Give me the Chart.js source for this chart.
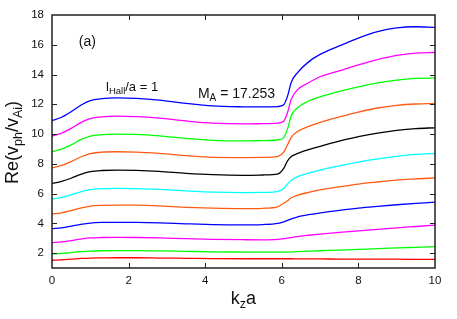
<!DOCTYPE html>
<html lang="en">
<head>
    <meta charset="UTF-8">
    <title>Re(vph/vAi) vs kza</title>
    <script src="https://cdn.jsdelivr.net/npm/chart.js@4.4.1/dist/chart.umd.min.js"></script>
    <style>
        html, body { margin: 0; padding: 0; background: #fff; }
        #wrap { width: 457px; height: 319px; }
    </style>
</head>
<body>
    <div id="wrap"><canvas id="grafico"></canvas></div>

    <script>
        // sample points along kz*a
        const kz = [0, 0.25, 0.5, 0.75, 1, 1.3, 1.7, 2.2, 2.8, 3.5, 4.2, 5, 5.5,
                    5.9, 6.05, 6.15, 6.25, 6.4, 6.7, 7, 7.5, 8, 8.5, 9, 9.5, 10];

        // curves, bottom to top
        const c1  = [1.52, 1.55, 1.59, 1.64, 1.67, 1.68, 1.69, 1.69, 1.67, 1.65, 1.63, 1.62, 1.62,
                     1.62, 1.62, 1.62, 1.62, 1.61, 1.61, 1.61, 1.60, 1.60, 1.59, 1.59, 1.58, 1.58];
        const c2  = [1.95, 1.98, 2.04, 2.10, 2.14, 2.16, 2.17, 2.17, 2.15, 2.12, 2.09, 2.07, 2.06,
                     2.06, 2.06, 2.07, 2.08, 2.10, 2.13, 2.16, 2.20, 2.25, 2.30, 2.35, 2.39, 2.43];
        const c3  = [2.70, 2.75, 2.84, 2.94, 3.02, 3.05, 3.06, 3.05, 3.02, 2.97, 2.93, 2.90, 2.89,
                     2.92, 2.97, 3.01, 3.05, 3.11, 3.20, 3.28, 3.40, 3.50, 3.60, 3.70, 3.79, 3.88];
        const c4  = [3.64, 3.70, 3.81, 3.93, 4.02, 4.06, 4.07, 4.06, 4.03, 3.97, 3.92, 3.90, 3.92,
                     4.00, 4.10, 4.20, 4.30, 4.42, 4.58, 4.70, 4.87, 5.02, 5.14, 5.25, 5.34, 5.42];
        const c5  = [4.62, 4.71, 4.86, 5.03, 5.16, 5.21, 5.23, 5.22, 5.17, 5.08, 5.02, 4.99, 5.01,
                     5.13, 5.35, 5.52, 5.72, 5.88, 6.08, 6.25, 6.45, 6.64, 6.78, 6.90, 6.99, 7.05];
        const c6  = [5.63, 5.74, 5.91, 6.12, 6.26, 6.33, 6.35, 6.34, 6.28, 6.18, 6.10, 6.07, 6.08,
                     6.15, 6.35, 6.65, 6.90, 7.12, 7.38, 7.58, 7.86, 8.12, 8.33, 8.50, 8.63, 8.70];
        const c7  = [6.68, 6.82, 7.03, 7.29, 7.47, 7.55, 7.58, 7.56, 7.49, 7.36, 7.27, 7.23, 7.25,
                     7.33, 7.70, 8.20, 8.50, 8.68, 8.95, 9.18, 9.52, 9.82, 10.06, 10.25, 10.37, 10.42];
        const c8  = [7.73, 7.89, 8.15, 8.46, 8.68, 8.78, 8.81, 8.79, 8.70, 8.55, 8.43, 8.42, 8.43,
                     8.50, 8.78, 9.28, 9.80, 10.15, 10.52, 10.78, 11.15, 11.48, 11.75, 11.93, 12.02, 12.05];
        const c9  = [8.81, 8.99, 9.27, 9.62, 9.86, 9.96, 10.00, 9.98, 9.88, 9.71, 9.58, 9.54, 9.56,
                     9.60, 9.76, 10.35, 11.25, 11.75, 12.22, 12.50, 12.86, 13.17, 13.44, 13.63, 13.74, 13.77];
        const c10 = [9.86, 10.06, 10.38, 10.77, 11.04, 11.16, 11.20, 11.17, 11.07, 10.88, 10.73, 10.68, 10.70,
                     10.74, 10.86, 11.45, 12.35, 12.95, 13.45, 13.85, 14.25, 14.65, 15.00, 15.28, 15.44, 15.48];
        const c11 = [10.90, 11.13, 11.50, 11.94, 12.25, 12.38, 12.43, 12.40, 12.28, 12.06, 11.89, 11.83, 11.82,
                     11.85, 11.97, 12.55, 13.50, 14.10, 14.85, 15.35, 15.92, 16.45, 16.88, 17.13, 17.21, 17.17];

        const curvas  = [c1, c2, c3, c4, c5, c6, c7, c8, c9, c10, c11];
        const colores = ['#ff0000', '#00ff00', '#ff00ff', '#0000ff', '#ff5a14', '#00ffff', '#000000', '#ff5a14', '#00ff00', '#ff00ff', '#0000ff'];

        const xTicks = [0, 2, 4, 6, 8, 10];
        const yTicks = [2, 4, 6, 8, 10, 12, 14, 16, 18];

        const fuente = "'Liberation Sans', Arial, sans-serif";

        // text with subscripts: parts = [text, size, drop]
        function textoRico(ctx, partes, x, y, centrado) {
            let ancho = 0;
            partes.forEach(p => { ctx.font = p[1] + 'px ' + fuente; ancho += ctx.measureText(p[0]).width; });
            let cx = centrado ? x - ancho / 2 : x;
            partes.forEach(p => {
                ctx.font = p[1] + 'px ' + fuente;
                ctx.fillText(p[0], cx, y + p[2]);
                cx += ctx.measureText(p[0]).width;
            });
        }

        // frame, inward ticks on all sides, titles and labels
        const marco = {
            id: 'marco',
            afterDraw(chart) {
                const { ctx, chartArea: a, scales: { x, y } } = chart;
                ctx.save();
                ctx.strokeStyle = '#222';
                ctx.lineWidth = 1.5;
                ctx.strokeRect(a.left, a.top, a.right - a.left, a.bottom - a.top);

                ctx.lineWidth = 1;
                ctx.beginPath();
                xTicks.slice(1, -1).forEach(v => {
                    const px = Math.round(x.getPixelForValue(v)) + 0.5;
                    ctx.moveTo(px, a.bottom); ctx.lineTo(px, a.bottom - 5);
                    ctx.moveTo(px, a.top); ctx.lineTo(px, a.top + 5);
                });
                yTicks.slice(0, -1).forEach(v => {
                    const py = Math.round(y.getPixelForValue(v)) + 0.5;
                    ctx.moveTo(a.left, py); ctx.lineTo(a.left + 5, py);
                    ctx.moveTo(a.right, py); ctx.lineTo(a.right - 5, py);
                });
                ctx.stroke();

                ctx.fillStyle = '#111';
                ctx.textBaseline = 'alphabetic';
                ctx.textAlign = 'left';

                // x title
                textoRico(ctx, [['k', 18, 0], ['z', 12.5, 4], ['a', 18, 0]], (a.left + a.right) / 2, 304, true);

                // y title
                ctx.save();
                ctx.translate(17.5, (a.top + a.bottom) / 2 + 1);
                ctx.rotate(-Math.PI / 2);
                textoRico(ctx, [['Re(v', 18, 0], ['ph', 12.5, 4], ['/v', 18, 0], ['Ai', 12.5, 4], [')', 18, 0]], 0, 0, true);
                ctx.restore();

                // labels inside the plot
                textoRico(ctx, [['(a)', 14, 0]], x.getPixelForValue(0.7), y.getPixelForValue(15.95), false);
                textoRico(ctx, [['l', 13, 0], ['Hall', 9.5, 3.5], ['/a = 1', 13, 0]], x.getPixelForValue(1.41), y.getPixelForValue(12.9), false);
                textoRico(ctx, [['M', 14, 0], ['A', 10, 3.5], [' = 17.253', 14, 0]], x.getPixelForValue(3.81), y.getPixelForValue(12.44), false);
                ctx.restore();
            }
        };

        new Chart(document.getElementById('grafico'), {
            type: 'line',
            data: {
                datasets: curvas.map((c, i) => ({
                    data: kz.map((k, j) => ({ x: k, y: c[j] })),
                    borderColor: colores[i],
                    borderWidth: 1.3,
                    pointRadius: 0,
                    fill: false,
                    cubicInterpolationMode: 'monotone'
                }))
            },
            options: {
                responsive: true,
                maintainAspectRatio: false,
                animation: false,
                devicePixelRatio: 1,
                layout: { padding: { top: 15, right: 22, left: 0, bottom: 0 } },
                plugins: {
                    legend: { display: false },
                    tooltip: { enabled: false }
                },
                scales: {
                    x: {
                        type: 'linear',
                        min: 0,
                        max: 10,
                        afterBuildTicks: s => { s.ticks = xTicks.map(v => ({ value: v })); },
                        afterFit: s => { s.height = 51; },
                        grid: { display: false, drawTicks: false },
                        border: { display: false },
                        ticks: {
                            padding: 6,
                            color: '#111',
                            font: { family: fuente, size: 11.5 },
                            maxRotation: 0
                        }
                    },
                    y: {
                        type: 'linear',
                        min: 1,
                        max: 18,
                        afterBuildTicks: s => { s.ticks = yTicks.map(v => ({ value: v })); },
                        afterFit: s => { s.width = 52; },
                        grid: { display: false, drawTicks: false },
                        border: { display: false },
                        ticks: {
                            padding: 8,
                            color: '#111',
                            font: { family: fuente, size: 11.5 }
                        }
                    }
                }
            },
            plugins: [marco]
        });
    </script>
</body>
</html>
